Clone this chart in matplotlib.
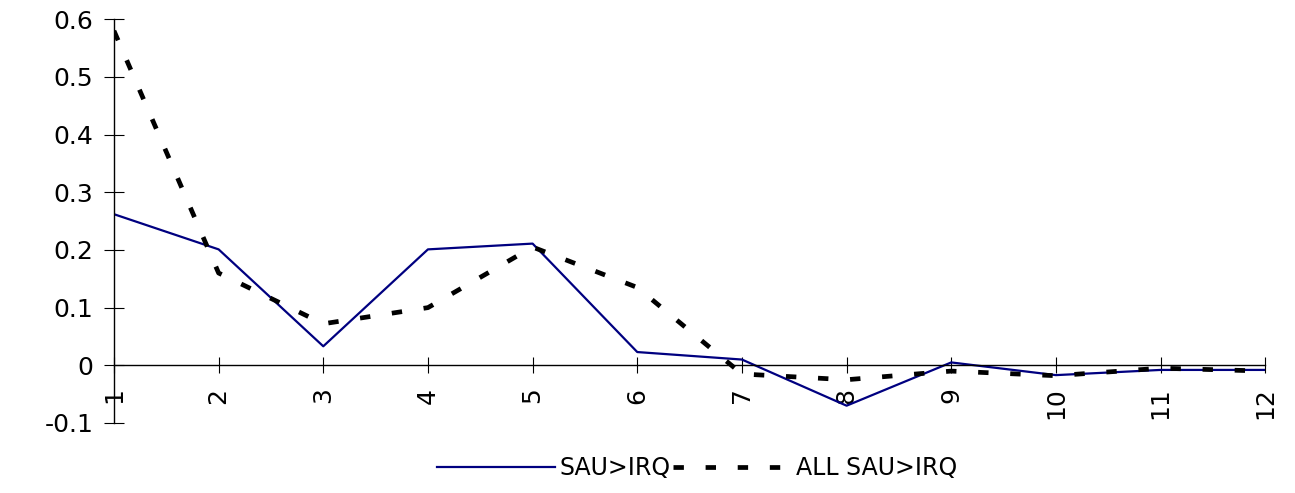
import matplotlib
matplotlib.use("Agg")
import matplotlib.pyplot as plt
from matplotlib.ticker import FuncFormatter

periods = [1, 2, 3, 4, 5, 6, 7, 8, 9, 10, 11, 12]
sau_irq = [0.262, 0.201, 0.033, 0.201, 0.211, 0.023, 0.010, -0.070, 0.005, -0.017, -0.008, -0.008]
all_sau_irq = [0.580, 0.160, 0.072, 0.100, 0.205, 0.135, -0.015, -0.025, -0.010, -0.018, -0.005, -0.010]

plt.rcParams["font.family"] = ["DejaVu Sans"]

fig = plt.figure(figsize=(12.95, 4.93), dpi=100, facecolor="white")
ax = fig.add_axes([0.088, 0.142, 0.889, 0.819])

ax.plot(periods, sau_irq, color="#000080", lw=1.6, label="SAU>IRQ")
ax.plot(periods, all_sau_irq, color="black", lw=3.4, dashes=(2.2, 4.6), label="ALL SAU>IRQ")

ax.set_xlim(1, 12)
ax.set_ylim(-0.1, 0.6)
ax.set_xticks(periods)
ax.set_yticks([-0.1, 0, 0.1, 0.2, 0.3, 0.4, 0.5, 0.6])
ax.yaxis.set_major_formatter(FuncFormatter(lambda v, p: "%g" % round(v, 2)))

for s in ["top", "right"]:
    ax.spines[s].set_visible(False)
ax.spines["bottom"].set_position(("data", 0))
ax.spines["left"].set_linewidth(1)
ax.spines["bottom"].set_linewidth(1)

ax.tick_params(axis="y", direction="inout", length=14, labelsize=18, pad=8)
ax.tick_params(axis="x", direction="inout", length=12, labelsize=18, labelrotation=90, pad=10)

handles, labels = ax.get_legend_handles_labels()
fig.legend(handles, labels, loc="center", bbox_to_anchor=(0.538, 0.05), ncol=2, frameon=False,
           fontsize=17, handlelength=5, columnspacing=0.1, handletextpad=0.2)

fig.savefig("out.png", dpi=100, facecolor="white")
